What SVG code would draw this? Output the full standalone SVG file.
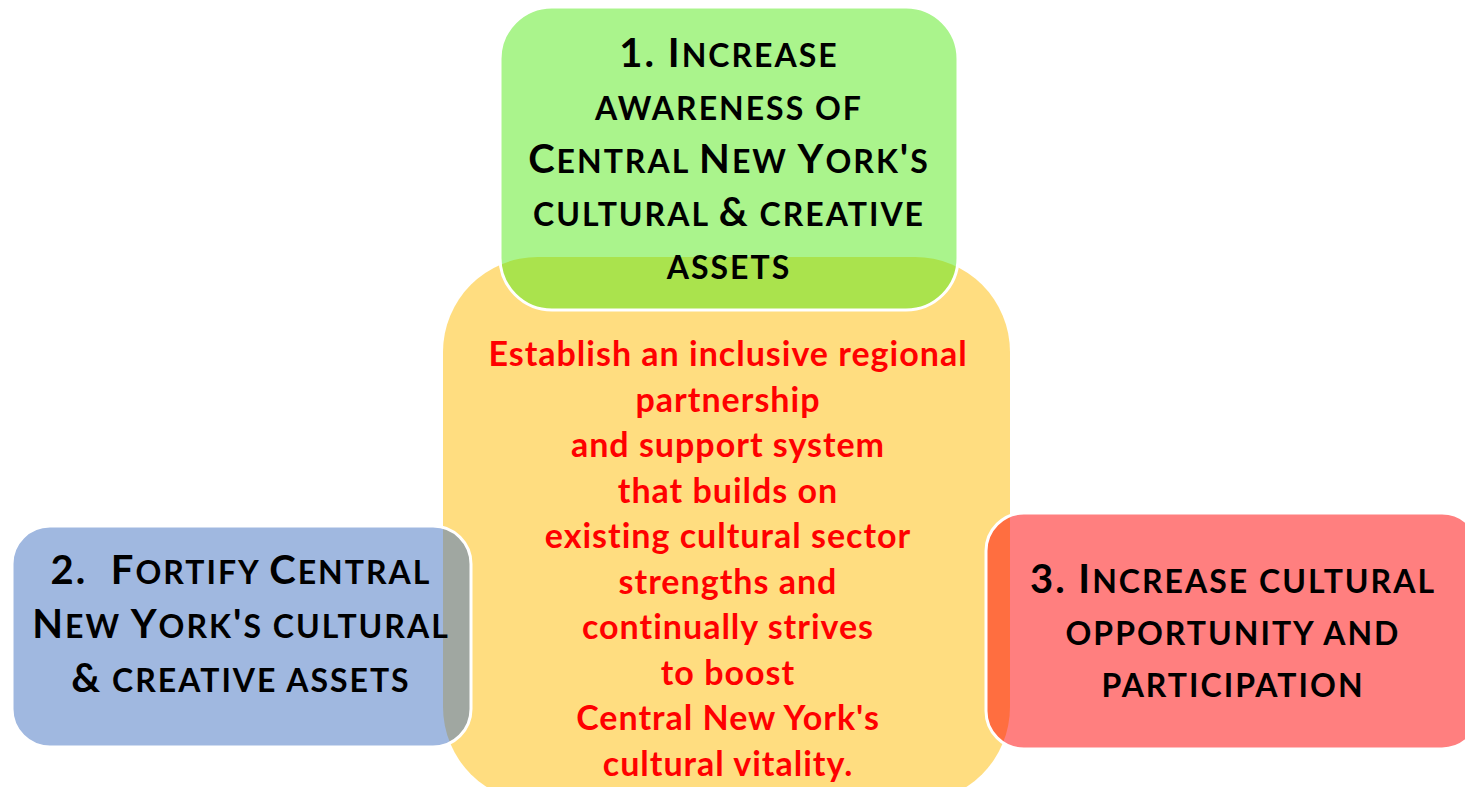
<svg xmlns="http://www.w3.org/2000/svg" width="1465" height="787" viewBox="0 0 1465 787">
<style>
.box{stroke:#FFFFFF;stroke-width:3}
.t{font-family:Lato,"Open Sans","Liberation Sans",sans-serif;font-weight:700;fill:#000000;text-anchor:middle;font-size:40px;letter-spacing:2px;white-space:pre}
.s{font-size:32px}
.m{font-family:Lato,"Liberation Sans",sans-serif;font-weight:700;fill:#FF0000;text-anchor:middle;font-size:34px;letter-spacing:1px}
</style>
<rect width="1465" height="787" fill="#FFFFFF"/>
<g id="center">
<rect x="443" y="257" width="567" height="545" rx="95" fill="#FFDD80"/>
<text class="m" x="728" y="366">Establish an inclusive regional</text>
<text class="m" x="728" y="411.5">partnership</text>
<text class="m" x="728" y="457">and support system</text>
<text class="m" x="728" y="502.5">that builds on</text>
<text class="m" x="728" y="548">existing cultural sector</text>
<text class="m" x="728" y="593.5">strengths and</text>
<text class="m" x="728" y="639">continually strives</text>
<text class="m" x="728" y="684.5">to boost</text>
<text class="m" x="728" y="730">Central New York's</text>
<text class="m" x="728" y="775.5">cultural vitality.</text>
</g>
<g id="goal1">
<rect class="box" x="500" y="7" width="458" height="303" rx="52" fill="#55E91A" fill-opacity="0.5"/>
<text class="t" x="729" y="67">1. I<tspan class="s">NCREASE</tspan></text>
<text class="t" x="729" y="120"><tspan class="s">AWARENESS OF</tspan></text>
<text class="t" x="729" y="173">C<tspan class="s">ENTRAL </tspan>N<tspan class="s">EW </tspan>Y<tspan class="s">ORK</tspan>'<tspan class="s">S</tspan></text>
<text class="t" x="729" y="226"><tspan class="s">CULTURAL </tspan>&amp;<tspan class="s"> CREATIVE</tspan></text>
<text class="t" x="729" y="279"><tspan class="s">ASSETS</tspan></text>
</g>
<g id="goal2">
<rect class="box" x="12" y="526" width="459" height="221" rx="38" fill="#4171C1" fill-opacity="0.5"/>
<text class="t" x="241" y="584">2.  F<tspan class="s">ORTIFY </tspan>C<tspan class="s">ENTRAL</tspan></text>
<text class="t" x="241" y="638">N<tspan class="s">EW </tspan>Y<tspan class="s">ORK</tspan>'<tspan class="s">S CULTURAL</tspan></text>
<text class="t" x="241" y="692">&amp;<tspan class="s"> CREATIVE ASSETS</tspan></text>
</g>
<g id="goal3">
<rect class="box" x="986" y="513" width="494" height="236" rx="38" fill="#FF0000" fill-opacity="0.5"/>
<text class="t" x="1233" y="593">3. I<tspan class="s">NCREASE CULTURAL</tspan></text>
<text class="t" x="1233" y="645"><tspan class="s">OPPORTUNITY AND</tspan></text>
<text class="t" x="1233" y="697"><tspan class="s">PARTICIPATION</tspan></text>
</g>
<g id="connectors"></g>
</svg>
